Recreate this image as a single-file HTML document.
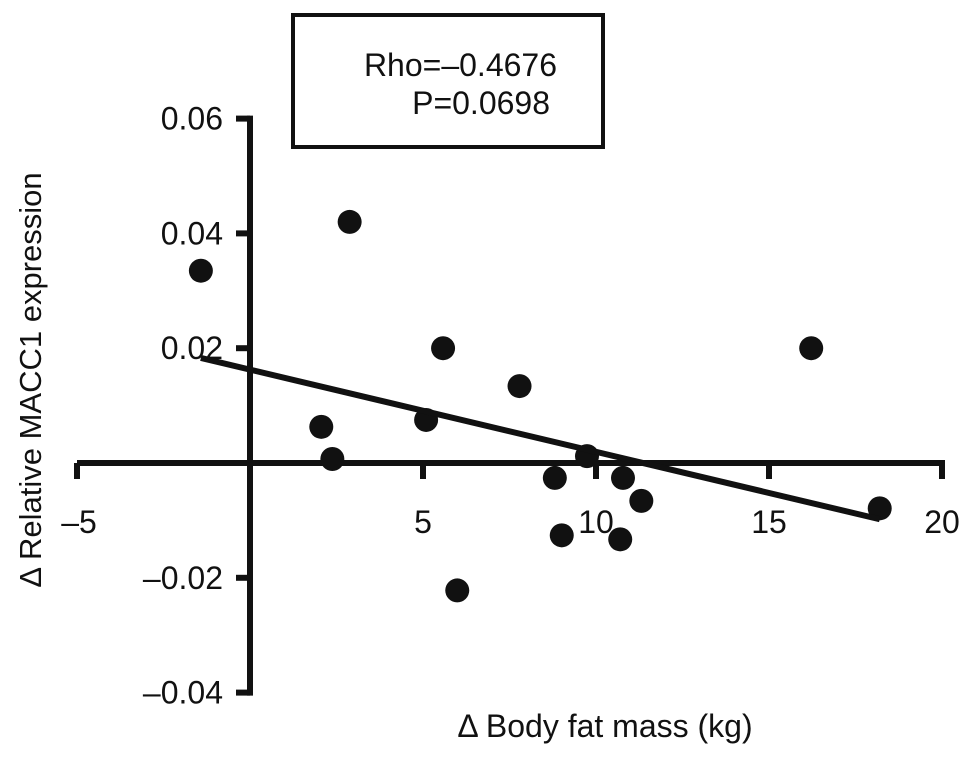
<!DOCTYPE html>
<html><head><meta charset="utf-8"><style>
html,body{margin:0;padding:0;background:#fff}
svg{display:block}
text{font-family:"Liberation Sans",Arial,sans-serif;fill:#111}
</style></head><body>
<svg id="chart" width="969" height="758" viewBox="0 0 969 758" xmlns="http://www.w3.org/2000/svg">
<g id="axes"></g>
<g id="marks"></g>
<rect x="293" y="15" width="310" height="132" fill="#fff" stroke="#111" stroke-width="4"/>
<text x="557" y="76" font-size="32" text-anchor="end">Rho=–0.4676</text>
<text x="550" y="114" font-size="32" text-anchor="end">P=0.0698</text>
<text x="605" y="737" font-size="32" text-anchor="middle">Δ Body fat mass (kg)</text>
<text x="0" y="0" font-size="31" text-anchor="middle" transform="translate(41,380) rotate(-90)">Δ Relative MACC1 expression</text>
</svg>
<script>
const xTicks=[-5,5,10,15,20];
const xTickLabels=["–5","5","10","15","20"];
const yTicks=[0.06,0.04,0.02,-0.02,-0.04];
const yTickLabels=["0.06","0.04","0.02","–0.02","–0.04"];
const xValues=[-1.42,2.88,5.58,7.79,5.09,2.06,2.38,9.74,8.81,10.78,11.31,9.01,10.70,5.99,16.22,18.2];
const yValues=[0.0335,0.042,0.020,0.0134,0.0075,0.0063,0.0007,0.0012,-0.0026,-0.0026,-0.0066,-0.0126,-0.0133,-0.0222,0.020,-0.0079];
const trendX=[-1.42,18.2];
const trendY=[0.0183,-0.0098];
const NS="http://www.w3.org/2000/svg";
function sx(v){return 250+v*34.6;}
function sy(v){return 463-v*5740;}
function mk(tag,attrs,parent){const e=document.createElementNS(NS,tag);for(const k in attrs)e.setAttribute(k,attrs[k]);parent.appendChild(e);return e;}
const axes=document.getElementById('axes');
const marks=document.getElementById('marks');
let l=mk('line',{x1:sx(-5),y1:sy(0),x2:sx(20)+3,y2:sy(0),stroke:'#111','stroke-width':6},axes);


l=mk('line',{x1:250,y1:sy(0.06)-3,x2:250,y2:sy(-0.04)+3,stroke:'#111','stroke-width':6},axes);


xTicks.forEach((v,i)=>{
  const t=mk('line',{x1:sx(v),y1:sy(0),x2:sx(v),y2:sy(0)+16,stroke:'#111','stroke-width':6},axes);
  
  
  const tx=mk('text',{x:sx(v)+(v<0?2:0),y:533,'font-size':32,'text-anchor':'middle'},axes);
  tx.textContent=xTickLabels[i];
  
  
});
yTicks.forEach((v,i)=>{
  const t=mk('line',{x1:236,y1:sy(v),x2:250,y2:sy(v),stroke:'#111','stroke-width':6},axes);
  
  
  const tx=mk('text',{x:223,y:sy(v)+11,'font-size':32,'text-anchor':'end'},axes);
  tx.textContent=yTickLabels[i];
  
  
});
xValues.forEach((v,i)=>{
  const c=mk('circle',{cx:sx(v),cy:sy(yValues[i]),r:12,fill:'#111'},marks);
  
  
});
const tl=mk('line',{x1:sx(trendX[0]),y1:sy(trendY[0]),x2:sx(trendX[1]),y2:sy(trendY[1]),stroke:'#111','stroke-width':6},marks);


</script>
</body></html>
